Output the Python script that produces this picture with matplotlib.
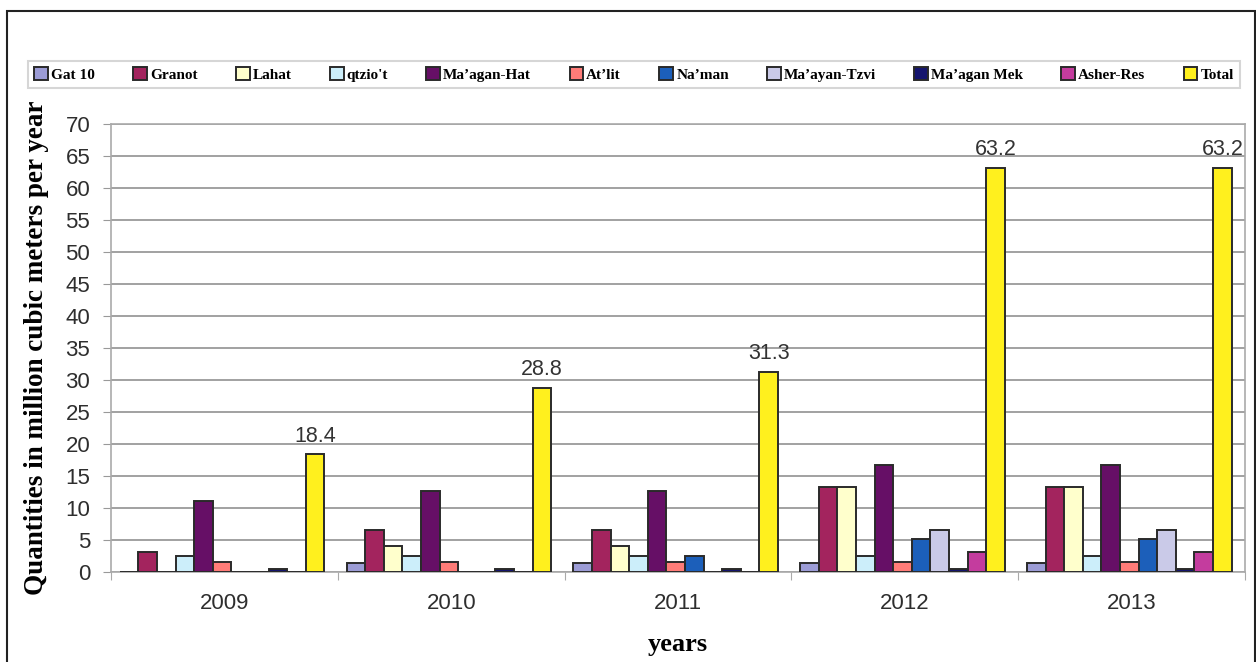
import numpy as np
import matplotlib.pyplot as plt
from matplotlib.patches import Rectangle

# anos e reservatorios
anos = ["2009", "2010", "2011", "2012", "2013"]
series = ["Gat 10", "Granot", "Lahat", "qtzio't", "Ma\u2019agan-Hat", "At\u2019lit",
          "Na\u2019man", "Ma\u2019ayan-Tzvi", "Ma\u2019agan Mek", "Asher-Res", "Total"]

# quantidades (milhoes de m3 por ano), uma lista por reservatorio
gat10 = [0, 1.4, 1.4, 1.4, 1.4]
granot = [3.2, 6.6, 6.6, 13.3, 13.3]
lahat = [0, 4.1, 4.1, 13.3, 13.3]
qtzio = [2.5, 2.5, 2.5, 2.5, 2.5]
maagan_hat = [11.1, 12.7, 12.7, 16.7, 16.7]
atlit = [1.6, 1.6, 1.6, 1.6, 1.6]
naman = [0, 0, 2.5, 5.2, 5.2]
maayan_tzvi = [0, 0, 0, 6.6, 6.6]
maagan_mek = [0.5, 0.5, 0.5, 0.5, 0.5]
asher_res = [0, 0, 0, 3.1, 3.1]
total = [18.4, 28.8, 31.3, 63.2, 63.2]

dados = [gat10, granot, lahat, qtzio, maagan_hat, atlit, naman,
         maayan_tzvi, maagan_mek, asher_res, total]
cores = ["#9C9CD6", "#A3245E", "#FFFFCC", "#CCEEFA", "#660F66", "#FF7C78",
         "#1C5FBA", "#CACAE8", "#15156E", "#C43C9E", "#FFF01E"]

fig = plt.figure(figsize=(12.56, 6.62), dpi=100)
ax = fig.add_axes([111/1256, 1 - 572/662, (1245 - 111)/1256, (572 - 124)/662])

x = np.arange(len(anos))
n = len(series)
largura = 0.082
inicio = -largura * n / 2 + largura / 2 - 0.01

for i, (nome, vals, cor) in enumerate(zip(series, dados, cores)):
    pos = x + inicio + i * largura
    ax.bar(pos, vals, largura, color=cor, edgecolor="#2a2a2a", linewidth=1.4,
           label=nome, zorder=3)
    if nome == "Total":
        for p, v in zip(pos, vals):
            ax.text(p, v + 1.2, f"{v:.1f}", ha="center", va="bottom",
                    fontsize=15.5, color="#333333", family="Liberation Sans")

ax.set_xlim(-0.5, len(anos) - 0.5)
ax.set_ylim(0, 70)
ax.set_yticks(np.arange(0, 71, 5))
ax.yaxis.grid(True, color="#9a9a9a", linewidth=1.3, zorder=0)

# ticks de separacao entre os anos e rotulos no centro
ax.set_xticks(np.arange(-0.5, len(anos)), minor=False)
ax.set_xticklabels([])
ax.set_xticks(x, minor=True)
ax.set_xticklabels(anos, minor=True)
ax.tick_params(axis="x", which="major", length=6, color="#aaaaaa", direction="out")
ax.tick_params(axis="x", which="minor", length=0, pad=15, labelsize=16,
               labelcolor="#2e2e2e")
ax.tick_params(axis="y", length=6, color="#999999", pad=9, labelsize=16,
               labelcolor="#2e2e2e")
for lab in ax.get_xticklabels(minor=True) + ax.get_yticklabels():
    lab.set_family("Liberation Sans")

for s in ax.spines.values():
    s.set_color("#aaaaaa")
    s.set_linewidth(1.2)

ax.set_ylabel("Quantities in million cubic meters per year", family="Liberation Serif",
              fontweight="bold", fontsize=19.5, labelpad=12)
ax.set_xlabel("years", family="Liberation Serif", fontweight="bold", fontsize=19,
              labelpad=14)

leg = fig.legend(loc="lower left", bbox_to_anchor=(28/1256, 1 - 88/662, 1212/1256, 31/662),
                 mode="expand", ncol=n, frameon=True, fancybox=False, shadow=False,
                 handlelength=0.9, handleheight=0.9, handletextpad=0.2,
                 columnspacing=0.4, borderaxespad=0,
                 prop={"family": "Liberation Serif", "weight": "bold", "size": 11})
leg.get_frame().set_edgecolor("#cccccc")
leg.get_frame().set_linewidth(1.5)

# moldura externa
fig.patches.append(Rectangle((7/1256, -0.02), 1248/1256, 1.02 - 11/662,
                             transform=fig.transFigure, fill=False,
                             edgecolor="#222222", linewidth=1.5))

fig.savefig("out.png", dpi=100)
